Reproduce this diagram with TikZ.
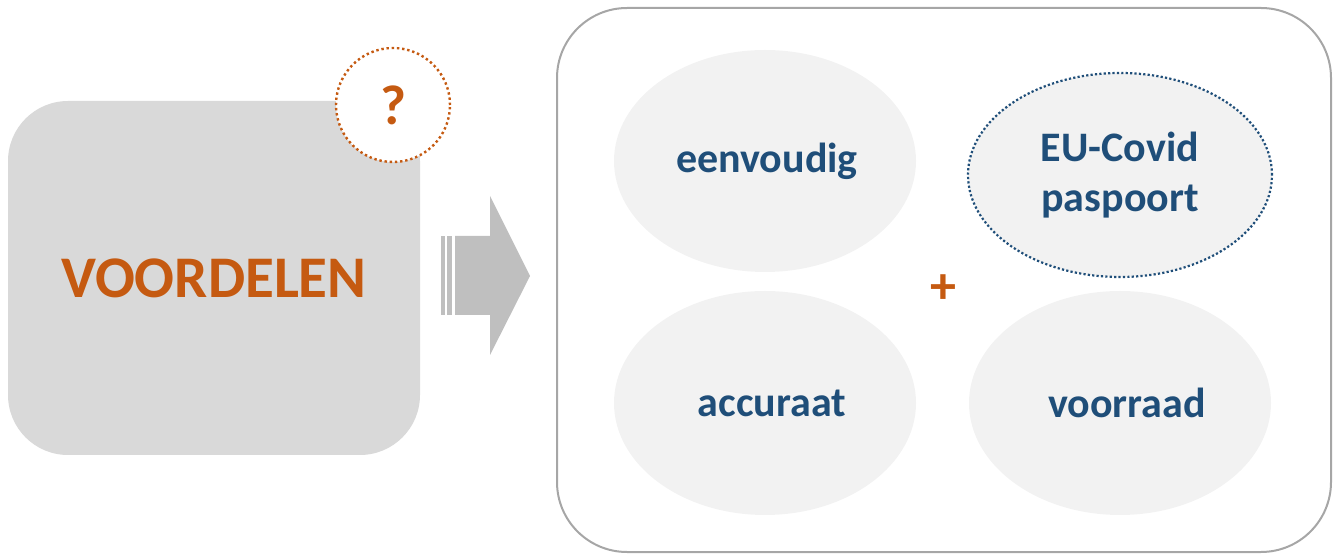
\documentclass[tikz,border=0pt]{standalone}
\usepackage{fontspec}
\setmainfont{Carlito}
\usetikzlibrary{shapes.geometric}
\begin{document}
\begin{tikzpicture}[
            x=0.5pt, y=-0.5pt,
            font=\bfseries,
            styledots/.style={line width=1.1pt, dash pattern=on 1.1pt off 1.1pt},
            styleellipse/.style={ellipse, inner sep=0pt, fill=lightfill, text=darkblue,
                                 font=\fontsize{21}{25}\selectfont\bfseries, align=center}
        ]
		\definecolor{myorange}{HTML}{C55A11}
		\definecolor{darkblue}{HTML}{1F4E79}
		\definecolor{lightfill}{HTML}{F2F2F2}
		\definecolor{boxgray}{HTML}{D9D9D9}
		\definecolor{arrowgray}{HTML}{BFBFBF}
		\definecolor{framegray}{HTML}{A6A6A6}
		\useasboundingbox (0,0) rectangle (1339,555);
		
		%Left box
		\node[rectangle, rounded corners=30pt, fill=boxgray, minimum width=206pt, minimum height=177pt,
		      text=myorange, font=\fontsize{29.5}{34}\selectfont\bfseries] (voordelen) at (214,278) {VOORDELEN};
		\node[circle, fill=white, draw=myorange, styledots, line width=1.2pt, dash pattern=on 1.2pt off 1.4pt,
		      minimum size=57pt, inner sep=0pt,
		      text=myorange, font=\fontsize{28}{32}\selectfont\bfseries] (vraag) at (393,105) {?};
		
		%Arrow
		\fill[arrowgray] (441,236) rectangle (445,315);
		\fill[arrowgray] (447,236) rectangle (452,315);
		\fill[arrowgray] (455,236) -- (490,236) -- (490,196) -- (530,276) -- (490,355) -- (490,315) -- (455,315) -- cycle;
		
		%Right frame
		\node[rectangle, rounded corners=35pt, draw=framegray, line width=1pt, minimum width=387pt, minimum height=272pt] (kader) at (944,280) {};
		
		\node[styleellipse, minimum width=151pt, minimum height=111pt] (eenvoudig) at (765,161) {\hspace*{2pt}eenvoudig};
		\node[styleellipse, minimum width=152pt, minimum height=102pt, draw=darkblue, styledots,
		      font=\fontsize{21}{25}\selectfont\bfseries] (paspoort) at (1120,175) {\raisebox{5pt}{\parbox{100pt}{\centering EU-Covid\\paspoort}}};
		\node[styleellipse, minimum width=151pt, minimum height=112pt] (accuraat) at (765,403) {\hspace*{7pt}accuraat};
		\node[styleellipse, minimum width=151pt, minimum height=112pt] (voorraad) at (1120,403) {\hspace*{7pt}voorraad};
		
		\node[text=myorange, font=\fontsize{26}{30}\selectfont\bfseries] (plus) at (943,289) {+};
    \end{tikzpicture}
\end{document}
